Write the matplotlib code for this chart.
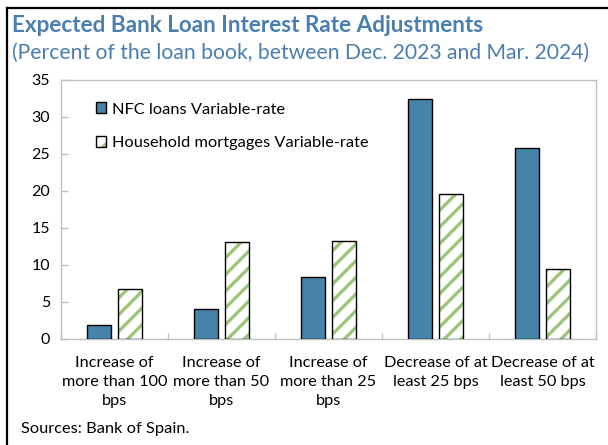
import matplotlib
matplotlib.use("Agg")
import matplotlib.pyplot as plt
import numpy as np
from matplotlib.patches import Patch
from matplotlib.lines import Line2D
from matplotlib.legend_handler import HandlerTuple

categories = [
    "Increase of\nmore than 100\nbps",
    "Increase of\nmore than 50\nbps",
    "Increase of\nmore than 25\nbps",
    "Decrease of at\nleast 25 bps",
    "Decrease of at\nleast 50 bps",
]
nfc_variable = [1.9, 4.0, 8.35, 32.4, 25.7]
household_variable = [6.7, 13.1, 13.2, 19.6, 9.5]
series_names = ["NFC loans Variable-rate", "Household mortgages Variable-rate"]
yticks = [0, 5, 10, 15, 20, 25, 30, 35]

FONT = "Lato"
BLUE = "#4683A9"
GREEN = "#9BC67A"
TITLE_BLUE = "#4A7EB0"
GRID_GRAY = "#BFBFBF"

plt.rcParams["font.family"] = [FONT, "DejaVu Sans"]
plt.rcParams["hatch.linewidth"] = 2.4

W, H = 608, 445
fig = plt.figure(figsize=(W / 100, H / 100), dpi=100)

# frame lines along top and left edge of the panel
fig.add_artist(Line2D([7 / W, 1.0], [1 - 8 / H, 1 - 8 / H], color="black", lw=1.6,
                      transform=fig.transFigure))
fig.add_artist(Line2D([7 / W, 7 / W], [0, 1 - 8 / H], color="black", lw=1.6,
                      transform=fig.transFigure))

fig.text(12 / W, 1 - 25 / H, "Expected Bank Loan Interest Rate Adjustments",
         color=TITLE_BLUE, fontsize=16.2, fontweight="bold", va="center", ha="left")
fig.text(12 / W, 1 - 53 / H, "(Percent of the loan book, between Dec. 2023 and Mar. 2024)",
         color=TITLE_BLUE, fontsize=15.2, va="center", ha="left")
fig.text(21 / W, 1 - 429 / H, "Sources: Bank of Spain.", color="black",
         fontsize=11.8, va="center", ha="left")

ax = fig.add_axes([61 / W, (H - 339) / H, (596 - 61) / W, (339 - 79.5) / H])

x = np.arange(len(categories))
bw = 0.224
off = 0.1425

ax.bar(x - off, nfc_variable, bw, color=BLUE, edgecolor="black", linewidth=1.0, zorder=3)
ax.bar(x + off, household_variable, bw, color="white", edgecolor=GREEN, hatch="//",
       linewidth=0, zorder=3)
ax.bar(x + off, household_variable, bw, fill=False, edgecolor="black", linewidth=1.0, zorder=4)

ax.set_xlim(-0.5, len(categories) - 0.5)
ax.set_ylim(0, 35)
ax.set_yticks(yticks)
ax.set_yticklabels([str(v) for v in yticks], fontsize=11.5)

ax.set_xticks(x)
ax.set_xticklabels(categories, fontsize=11.7, linespacing=1.46)
ax.tick_params(axis="x", length=0, pad=12)
ax.set_xticks(np.arange(len(categories) + 1) - 0.5, minor=True)
ax.tick_params(axis="x", which="minor", direction="in", length=4, color=GRID_GRAY, width=1)
ax.tick_params(axis="y", direction="in", length=5, color=GRID_GRAY, width=1, pad=8)

for s in ax.spines.values():
    s.set_color(GRID_GRAY)
    s.set_linewidth(1)

h1 = Patch(facecolor=BLUE, edgecolor="black", linewidth=1.0)
h2a = Patch(facecolor="white", edgecolor=GREEN, hatch="//", linewidth=0)
h2b = Patch(fill=False, edgecolor="black", linewidth=1.0)
ax.legend([h1, (h2a, h2b)], series_names,
          handler_map={tuple: HandlerTuple(ndivide=1, pad=0)},
          loc="upper left", bbox_to_anchor=(0.065, 0.912), frameon=False,
          fontsize=11.8, handlelength=0.65, handleheight=0.65, handletextpad=0.35,
          labelspacing=1.2, borderpad=0, borderaxespad=0)

fig.savefig("out.png", dpi=100)
